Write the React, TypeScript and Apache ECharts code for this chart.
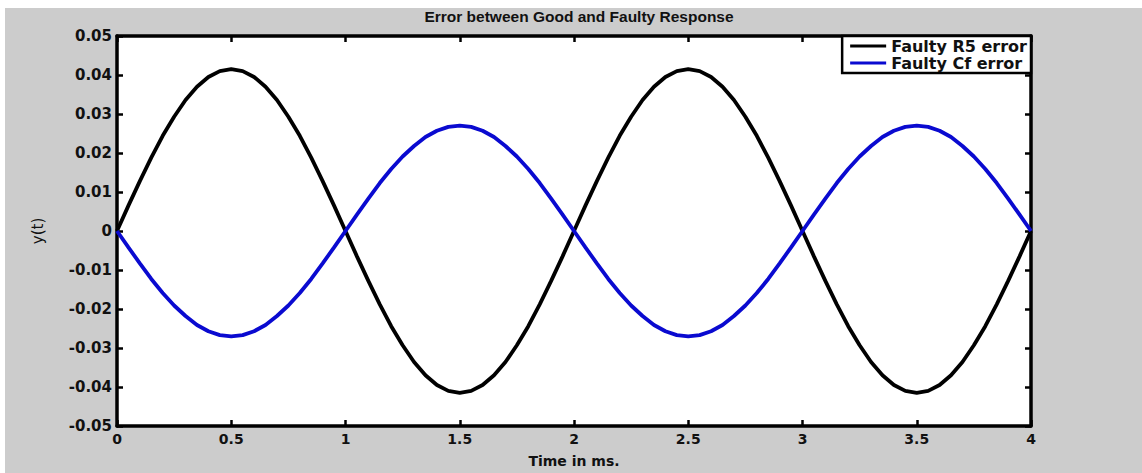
import React, { useEffect, useRef } from "react";
import * as echarts from "echarts";

const timeMs = [
  0, 0.05, 0.1, 0.15, 0.2, 0.25, 0.3, 0.35, 0.4, 0.45,
  0.5, 0.55, 0.6, 0.65, 0.7, 0.75, 0.8, 0.85, 0.9, 0.95,
  1, 1.05, 1.1, 1.15, 1.2, 1.25, 1.3, 1.35, 1.4, 1.45,
  1.5, 1.55, 1.6, 1.65, 1.7, 1.75, 1.8, 1.85, 1.9, 1.95,
  2, 2.05, 2.1, 2.15, 2.2, 2.25, 2.3, 2.35, 2.4, 2.45,
  2.5, 2.55, 2.6, 2.65, 2.7, 2.75, 2.8, 2.85, 2.9, 2.95,
  3, 3.05, 3.1, 3.15, 3.2, 3.25, 3.3, 3.35, 3.4, 3.45,
  3.5, 3.55, 3.6, 3.65, 3.7, 3.75, 3.8, 3.85, 3.9, 3.95, 4,
];

const faultyR5Error = [
  0, 0.0065, 0.0128, 0.0188, 0.0244, 0.0293, 0.0336, 0.037, 0.0395, 0.041,
  0.0415, 0.041, 0.0395, 0.037, 0.0336, 0.0293, 0.0244, 0.0188, 0.0128, 0.0065,
  0, -0.0065, -0.0128, -0.0188, -0.0244, -0.0293, -0.0336, -0.037, -0.0395, -0.041,
  -0.0415, -0.041, -0.0395, -0.037, -0.0336, -0.0293, -0.0244, -0.0188, -0.0128, -0.0065,
  0, 0.0065, 0.0128, 0.0188, 0.0244, 0.0293, 0.0336, 0.037, 0.0395, 0.041,
  0.0415, 0.041, 0.0395, 0.037, 0.0336, 0.0293, 0.0244, 0.0188, 0.0128, 0.0065,
  0, -0.0065, -0.0128, -0.0188, -0.0244, -0.0293, -0.0336, -0.037, -0.0395, -0.041,
  -0.0415, -0.041, -0.0395, -0.037, -0.0336, -0.0293, -0.0244, -0.0188, -0.0128, -0.0065, 0,
];

const faultyCfError = [
  0, -0.0042, -0.0083, -0.0123, -0.0159, -0.0191, -0.0218, -0.0241, -0.0257, -0.0267,
  -0.027, -0.0267, -0.0257, -0.0241, -0.0218, -0.0191, -0.0159, -0.0123, -0.0083, -0.0042,
  0, 0.0042, 0.0083, 0.0123, 0.0159, 0.0191, 0.0218, 0.0241, 0.0257, 0.0267,
  0.027, 0.0267, 0.0257, 0.0241, 0.0218, 0.0191, 0.0159, 0.0123, 0.0083, 0.0042,
  0, -0.0042, -0.0083, -0.0123, -0.0159, -0.0191, -0.0218, -0.0241, -0.0257, -0.0267,
  -0.027, -0.0267, -0.0257, -0.0241, -0.0218, -0.0191, -0.0159, -0.0123, -0.0083, -0.0042,
  0, 0.0042, 0.0083, 0.0123, 0.0159, 0.0191, 0.0218, 0.0241, 0.0257, 0.0267,
  0.027, 0.0267, 0.0257, 0.0241, 0.0218, 0.0191, 0.0159, 0.0123, 0.0083, 0.0042, 0,
];

const seriesNames = ["Faulty R5 error", "Faulty Cf error"];
const titleText = "Error between Good and Faulty Response";
const xAxisName = "Time in ms.";
const yAxisName = "y(t)";

const FONT = "DejaVu Sans";
const TITLE_FONT = "Liberation Sans";

function fmtY(v: number): string {
  if (Math.abs(v) < 1e-9) return "0";
  return v.toFixed(2);
}

function fmtX(v: number): string {
  return String(Math.round(v * 10) / 10);
}

export default function App() {
  const ref = useRef<HTMLDivElement>(null);

  useEffect(() => {
    document.body.style.margin = "0";
    if (!ref.current) return;
    const chart = echarts.init(ref.current, undefined, { renderer: "svg" });

    const pairs = (ys: number[]) => timeMs.map((t, i) => [t, ys[i]]);

    const tickStyle = { show: true, inside: true, length: 6, lineStyle: { color: "#000", width: 2.5 } };
    const lineStyle = { show: true, onZero: false, lineStyle: { color: "#000", width: 3.5 } };

    chart.setOption({
      animation: false,
      title: {
        text: titleText,
        left: 574,
        top: 3,
        textAlign: "center",
        textStyle: { fontFamily: TITLE_FONT, fontWeight: "bold", fontSize: 15.5, color: "#111" },
      },
      legend: {
        data: seriesNames,
        orient: "vertical",
        right: 111,
        top: 36,
        align: "left",
        backgroundColor: "#fff",
        borderColor: "#000",
        borderWidth: 2.5,
        borderRadius: 0,
        padding: [2, 4, 2, 8],
        itemGap: 1,
        itemWidth: 36,
        itemHeight: 14,
        icon: "path://M0,5.5 L36,5.5 L36,8.5 L0,8.5 Z",
        textStyle: { fontFamily: FONT, fontWeight: "bold", fontSize: 16, color: "#111" },
      },
      grid: {
        left: 117,
        right: 111,
        top: 36,
        bottom: 38,
        show: true,
        backgroundColor: "#fff",
        borderColor: "#000",
        borderWidth: 0,
      },
      xAxis: [
        {
          type: "value",
          min: 0,
          max: 4,
          interval: 0.5,
          position: "bottom",
          name: xAxisName,
          nameLocation: "middle",
          nameGap: 28,
          nameTextStyle: { fontFamily: FONT, fontWeight: "bold", fontSize: 14, color: "#111" },
          axisLine: lineStyle,
          axisTick: tickStyle,
          splitLine: { show: false },
          axisLabel: {
            formatter: fmtX,
            fontFamily: FONT,
            fontWeight: "bold",
            fontSize: 14,
            color: "#111",
            margin: 6,
          },
        },
        {
          type: "value",
          min: 0,
          max: 4,
          interval: 0.5,
          position: "top",
          axisLine: lineStyle,
          axisTick: tickStyle,
          splitLine: { show: false },
          axisLabel: { show: false },
        },
      ],
      yAxis: [
        {
          type: "value",
          min: -0.05,
          max: 0.05,
          interval: 0.01,
          position: "left",
          name: yAxisName,
          nameLocation: "middle",
          nameGap: 72,
          nameRotate: 90,
          nameTextStyle: { fontFamily: FONT, fontSize: 15, color: "#111" },
          axisLine: lineStyle,
          axisTick: tickStyle,
          splitLine: { show: false },
          axisLabel: {
            formatter: fmtY,
            fontFamily: FONT,
            fontWeight: "bold",
            fontSize: 15,
            color: "#111",
            margin: 5,
          },
        },
        {
          type: "value",
          min: -0.05,
          max: 0.05,
          interval: 0.01,
          position: "right",
          axisLine: lineStyle,
          axisTick: tickStyle,
          splitLine: { show: false },
          axisLabel: { show: false },
        },
      ],
      series: [
        {
          name: seriesNames[0],
          type: "line",
          data: pairs(faultyR5Error),
          smooth: false,
          showSymbol: false,
          lineStyle: { color: "#000", width: 3.8 },
          itemStyle: { color: "#000" },
        },
        {
          name: seriesNames[1],
          type: "line",
          data: pairs(faultyCfError),
          smooth: false,
          showSymbol: false,
          lineStyle: { color: "#0a0ad0", width: 3.8 },
          itemStyle: { color: "#0a0ad0" },
        },
      ],
    });

    return () => chart.dispose();
  }, []);

  return (
    <div style={{ position: "relative", width: 1142, height: 473, background: "#fff", overflow: "hidden" }}>
      <div style={{ position: "absolute", left: 5, top: 8, width: 1137, height: 465, background: "#cccccc" }} />
      <div ref={ref} style={{ position: "absolute", left: 0, top: 0, width: 1142, height: 473 }} />
    </div>
  );
}
